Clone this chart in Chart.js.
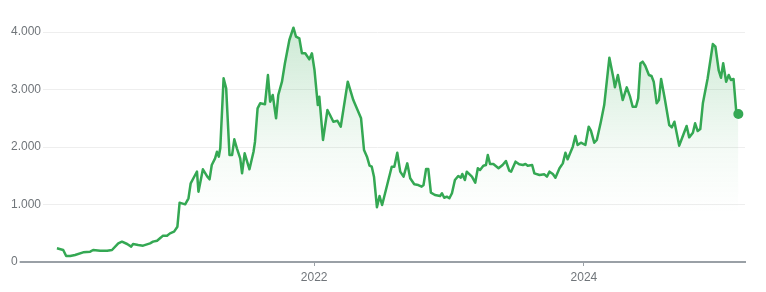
<!DOCTYPE html>
<html>
<head>
<meta charset="utf-8">
<script src="https://cdn.jsdelivr.net/npm/chart.js@4/dist/chart.umd.min.js"></script>
<style>
  html, body { margin: 0; padding: 0; background: #fff; }
  #wrap { width: 766px; height: 292px; }
</style>
</head>
<body>
<div id="wrap"><canvas id="priceChart" width="766" height="292"></canvas></div>
<script>
const dates = [
  '2020-02-05','2020-02-22','2020-03-01','2020-03-12','2020-03-25','2020-04-16','2020-05-05','2020-05-13','2020-06-01','2020-06-20',
  '2020-07-03','2020-07-20','2020-07-30','2020-08-13','2020-08-24','2020-08-29','2020-09-12','2020-09-25','2020-10-14','2020-10-22',
  '2020-11-02','2020-11-13','2020-11-18','2020-11-29','2020-12-07','2020-12-18','2020-12-27',
  '2021-01-02','2021-01-08','2021-01-17','2021-01-26','2021-02-01','2021-02-13','2021-02-18','2021-02-22','2021-03-06','2021-03-18',
  '2021-03-24','2021-03-30','2021-04-08','2021-04-13','2021-04-18','2021-04-22','2021-05-01','2021-05-08','2021-05-17','2021-05-24',
  '2021-05-30','2021-06-06','2021-06-15','2021-06-20','2021-06-27','2021-07-10','2021-07-21','2021-07-25','2021-08-01','2021-08-08',
  '2021-08-21','2021-08-29','2021-09-04','2021-09-11','2021-09-20','2021-09-26','2021-10-06','2021-10-14','2021-10-26','2021-11-06',
  '2021-11-13','2021-11-22','2021-11-29','2021-12-08','2021-12-19','2021-12-26',
  '2022-01-02','2022-01-11','2022-01-15','2022-01-25','2022-02-06','2022-02-13','2022-02-22','2022-03-05','2022-03-14','2022-04-02',
  '2022-04-17','2022-05-08','2022-05-16','2022-05-24','2022-05-31','2022-06-06','2022-06-12','2022-06-20','2022-06-27','2022-07-04',
  '2022-07-12','2022-07-30','2022-08-06','2022-08-14','2022-08-22','2022-08-31','2022-09-10','2022-09-18','2022-09-29','2022-10-10',
  '2022-10-19','2022-10-24','2022-10-31','2022-11-06','2022-11-13','2022-11-24','2022-12-08','2022-12-13','2022-12-19','2022-12-26',
  '2023-01-02','2023-01-09','2023-01-17','2023-01-26','2023-02-02','2023-02-06','2023-02-13','2023-02-18','2023-03-04','2023-03-13',
  '2023-03-20','2023-03-26','2023-04-04','2023-04-11','2023-04-16','2023-04-22','2023-05-01','2023-05-15','2023-05-26','2023-06-04',
  '2023-06-13','2023-06-18','2023-06-30','2023-07-10','2023-07-20','2023-07-27','2023-08-02','2023-08-14','2023-08-20','2023-09-03',
  '2023-09-16','2023-09-23','2023-09-30','2023-10-09','2023-10-16','2023-10-27','2023-11-05','2023-11-12','2023-11-18','2023-12-02',
  '2023-12-09','2023-12-15','2023-12-24',
  '2024-01-05','2024-01-14','2024-01-20','2024-01-29','2024-02-05','2024-02-16','2024-02-25','2024-03-10','2024-03-21','2024-03-25',
  '2024-04-02','2024-04-15','2024-04-26','2024-05-05','2024-05-12','2024-05-21','2024-05-27','2024-06-02','2024-06-08','2024-06-15',
  '2024-06-25','2024-07-02','2024-07-08','2024-07-16','2024-07-22','2024-07-28','2024-08-06','2024-08-19','2024-08-26','2024-09-02',
  '2024-09-15','2024-09-23','2024-10-05','2024-10-12','2024-10-22','2024-10-28','2024-11-04','2024-11-11','2024-11-18','2024-12-01',
  '2024-12-15','2024-12-22','2024-12-31',
  '2025-01-06','2025-01-12','2025-01-20','2025-01-27','2025-02-02','2025-02-09','2025-02-16','2025-02-22'
];

const prices = [
  238, 209, 104, 104, 122, 168, 180, 209, 197, 197,
  209, 325, 354, 313, 267, 313, 296, 284, 325, 354,
  371, 429, 458, 458, 498, 528, 614,
  1032, 1020, 1003, 1108, 1369, 1513, 1571, 1223, 1612, 1484,
  1438, 1687, 1803, 1918, 1832, 1977, 3195, 3020, 1861, 1861,
  2133, 1977, 1803, 1542, 1890, 1612, 1918, 2092, 2673, 2760,
  2743, 3252, 2788, 2904, 2499, 2904, 3136, 3456, 3861, 4075,
  3918, 3890, 3630, 3630, 3525, 3630,
  3339, 2730, 2875, 2122, 2643, 2557, 2440, 2457, 2353, 3136,
  2817, 2499, 1948, 1832, 1675, 1657, 1484, 951, 1148, 991,
  1195, 1657, 1657, 1901, 1571, 1484, 1716, 1456, 1351, 1339,
  1310, 1339, 1617, 1617, 1206, 1165, 1148, 1195, 1118, 1136,
  1108, 1195, 1426, 1496, 1467, 1530, 1426, 1571, 1484, 1379,
  1630, 1600, 1675, 1687, 1861, 1704, 1704, 1630, 1687, 1757,
  1588, 1571, 1745, 1699, 1687, 1704, 1675, 1687, 1542, 1513,
  1525, 1484, 1571, 1530, 1467, 1630, 1716, 1901, 1786, 2006,
  2191, 2035, 2075,
  2035, 2353, 2284, 2075, 2122, 2440, 2730, 3553, 3195, 3038,
  3252, 2817, 3038, 2875, 2701, 2701, 2847, 3456, 3484, 3414,
  3252, 3235, 3136, 2760, 2817, 3183, 2875, 2383, 2342, 2440,
  2023, 2162, 2365, 2168, 2249, 2412, 2278, 2313, 2760, 3195,
  3791, 3744, 3327,
  3205, 3456, 3136, 3252, 3165, 3183, 2643, 2574
];

const yTicks = [0, 1000, 2000, 3000, 4000];
const yTickLabels = ['0', '1.000', '2.000', '3.000', '4.000'];
const xTickDates = ['2022-01-01', '2024-01-01'];
const xTickLabels = ['2022', '2024'];
const xRange = ['2019-10-01', '2025-03-12'];

const green = '#34a853';
const labelGrey = '#70757a';

const points = dates.map((d, i) => ({ x: Date.parse(d), y: prices[i] }));
const xTickValues = xTickDates.map(d => Date.parse(d));

function fillGradient(context) {
    const chart = context.chart;
    const area = chart.chartArea;
    if (!area) return 'rgba(52,168,83,0.1)';
    const g = chart.ctx.createLinearGradient(0, area.top, 0, area.bottom);
    g.addColorStop(0, 'rgba(52,168,83,0.26)');
    g.addColorStop(0.54, 'rgba(52,168,83,0.05)');
    g.addColorStop(0.8, 'rgba(52,168,83,0)');
    g.addColorStop(1, 'rgba(52,168,83,0)');
    return g;
}

const ctx = document.getElementById('priceChart').getContext('2d');
const priceChart = new Chart(ctx, {
    type: 'line',
    data: {
        datasets: [{
            data: points,
            borderColor: green,
            borderWidth: 2.5,
            borderJoinStyle: 'round',
            backgroundColor: fillGradient,
            fill: 'start',
            tension: 0,
            pointRadius: c => (c.dataIndex === points.length - 1 ? 5 : 0),
            pointBackgroundColor: green,
            pointBorderWidth: 0,
            pointHoverRadius: 0
        }]
    },
    options: {
        responsive: false,
        animation: false,
        layout: { padding: { left: 10, right: 21, top: 20, bottom: 0 } },
        plugins: {
            legend: { display: false },
            tooltip: { enabled: false }
        },
        scales: {
            x: {
                type: 'linear',
                min: Date.parse(xRange[0]),
                max: Date.parse(xRange[1]),
                afterBuildTicks: scale => {
                    scale.ticks = xTickValues.map(v => ({ value: v }));
                },
                afterFit: scale => { scale.height = 30; },
                ticks: {
                    autoSkip: false,
                    maxRotation: 0,
                    padding: 4,
                    color: labelGrey,
                    font: { family: 'Arial, "Liberation Sans", sans-serif', size: 12 },
                    callback: (value, index) => xTickLabels[index]
                },
                grid: {
                    display: true,
                    drawOnChartArea: false,
                    drawTicks: true,
                    tickLength: 4,
                    tickColor: '#9aa0a6',
                    tickWidth: 1
                },
                border: { display: true, color: '#9aa0a6', width: 2 }
            },
            y: {
                min: 0,
                max: 4209,
                afterBuildTicks: scale => {
                    scale.ticks = yTicks.map(v => ({ value: v }));
                },
                afterFit: scale => { scale.width = 0; },
                ticks: {
                    mirror: true,
                    padding: 1,
                    z: 1,
                    showLabelBackdrop: true,
                    backdropColor: '#ffffff',
                    backdropPadding: 2,
                    color: labelGrey,
                    font: { family: 'Arial, "Liberation Sans", sans-serif', size: 12 },
                    callback: (value, index) => yTickLabels[index]
                },
                grid: {
                    color: '#eeeeee',
                    lineWidth: 1,
                    drawTicks: false
                },
                border: { display: false }
            }
        }
    }
});
</script>
</body>
</html>
